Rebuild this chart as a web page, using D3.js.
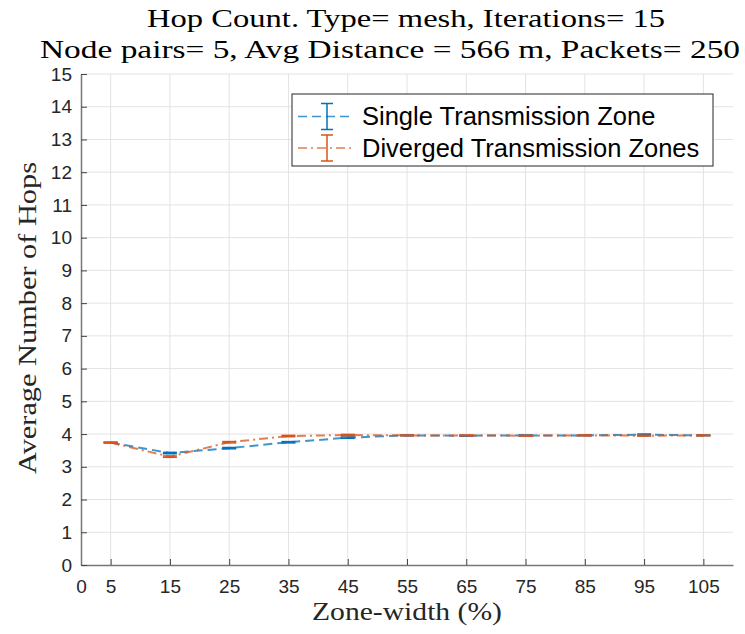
<!DOCTYPE html>
<html>
<head>
<meta charset="utf-8">
<script src="https://cdn.jsdelivr.net/npm/d3@7"></script>
<style>
  body { margin: 0; background: #fff; }
  svg { display: block; }
</style>
</head>
<body>
<div id="chart"></div>
<script>
// zone widths (%)
var zoneWidths = [5, 15, 25, 35, 45, 55, 65, 75, 85, 95, 105];
var singleHops = [3.74, 3.42, 3.57, 3.75, 3.89, 3.96, 3.95, 3.96, 3.96, 3.98, 3.96];
var singleErr = [0.01, 0.02, 0.02, 0.02, 0.02, 0.01, 0.01, 0.01, 0.01, 0.02, 0.01];
var divergedHops = [3.74, 3.31, 3.75, 3.94, 3.97, 3.96, 3.96, 3.95, 3.96, 3.95, 3.96];
var divergedErr = [0.01, 0.02, 0.02, 0.02, 0.02, 0.01, 0.01, 0.01, 0.01, 0.01, 0.01];
var xTicks = [0, 5, 15, 25, 35, 45, 55, 65, 75, 85, 95, 105];
var yTicks = d3.range(0, 16);
var seriesNames = ["Single Transmission Zone", "Diverged Transmission Zones"];

var width = 745, height = 634;
var margin = { top: 74, right: 12, bottom: 69, left: 81 };

var svg = d3.select("#chart").append("svg")
    .attr("width", width)
    .attr("height", height);

var x = d3.scaleLinear().domain([0, 110]).range([margin.left, width - margin.right]);
var y = d3.scaleLinear().domain([0, 15]).range([height - margin.bottom, margin.top]);

var sans = "'Liberation Sans', Arial, sans-serif";
var serif = "'Liberation Serif', 'DejaVu Serif', serif";

// grid
svg.append("g").selectAll("line")
    .data(xTicks.slice(1))
    .enter().append("line")
    .attr("x1", function (d) { return x(d); })
    .attr("x2", function (d) { return x(d); })
    .attr("y1", y(0))
    .attr("y2", y(15))
    .attr("stroke", "#e3e3e3")
    .attr("stroke-width", 1);

svg.append("g").selectAll("line")
    .data(yTicks.slice(1))
    .enter().append("line")
    .attr("x1", x(0))
    .attr("x2", x(110))
    .attr("y1", function (d) { return y(d); })
    .attr("y2", function (d) { return y(d); })
    .attr("stroke", "#e3e3e3")
    .attr("stroke-width", 1);

// axes
var xAxis = svg.append("g")
    .attr("transform", "translate(0," + y(0) + ")")
    .call(d3.axisBottom(x).tickValues(xTicks).tickSizeInner(-6).tickSizeOuter(0).tickPadding(15));
var yAxis = svg.append("g")
    .attr("transform", "translate(" + x(0) + ",0)")
    .call(d3.axisLeft(y).tickValues(yTicks).tickSizeInner(-6).tickSizeOuter(0).tickPadding(9));

[xAxis, yAxis].forEach(function (ax) {
    ax.select(".domain").attr("stroke", "#777").attr("stroke-width", 1.5);
    ax.selectAll(".tick line").attr("stroke", "#444");
    ax.selectAll(".tick text")
        .attr("fill", "#262626")
        .style("font-family", sans)
        .style("font-size", "19px");
});

// series
var series = [
    { name: seriesNames[0], values: singleHops, err: singleErr, color: "#0072BD", dash: "9,5" },
    { name: seriesNames[1], values: divergedHops, err: divergedErr, color: "#D95319", dash: "9,4,2,4" }
];

var line = d3.line()
    .x(function (d) { return x(d[0]); })
    .y(function (d) { return y(d[1]); });

series.forEach(function (s) {
    var pts = zoneWidths.map(function (z, i) { return [z, s.values[i], s.err[i]]; });
    var g = svg.append("g");

    g.append("path")
        .datum(pts)
        .attr("d", line)
        .attr("fill", "none")
        .attr("stroke", s.color)
        .attr("stroke-opacity", 0.75)
        .attr("stroke-width", 2)
        .attr("stroke-dasharray", s.dash);

    var bars = g.selectAll(".eb").data(pts).enter().append("g");
    bars.append("line")
        .attr("x1", function (d) { return x(d[0]); })
        .attr("x2", function (d) { return x(d[0]); })
        .attr("y1", function (d) { return y(d[1] - d[2]); })
        .attr("y2", function (d) { return y(d[1] + d[2]); })
        .attr("stroke", s.color).attr("stroke-width", 1.5);
    [-1, 1].forEach(function (sign) {
        bars.append("line")
            .attr("x1", function (d) { return x(d[0]) - 7; })
            .attr("x2", function (d) { return x(d[0]) + 7; })
            .attr("y1", function (d) { return y(d[1] + sign * d[2]); })
            .attr("y2", function (d) { return y(d[1] + sign * d[2]); })
            .attr("stroke", s.color).attr("stroke-width", 1.5);
    });
});

// legend
var legend = svg.append("g").attr("transform", "translate(292,94)");
legend.append("rect")
    .attr("width", 421).attr("height", 72)
    .attr("fill", "#fff").attr("stroke", "#262626").attr("stroke-width", 1);

series.forEach(function (s, i) {
    var cy = 22.5 + i * 31.5;
    var row = legend.append("g").attr("transform", "translate(0," + cy + ")");
    row.append("line")
        .attr("x1", 6).attr("x2", 60).attr("y1", 0).attr("y2", 0)
        .attr("stroke", s.color).attr("stroke-opacity", 0.75)
        .attr("stroke-width", 1.5).attr("stroke-dasharray", s.dash);
    row.append("line")
        .attr("x1", 35).attr("x2", 35).attr("y1", -13).attr("y2", 13)
        .attr("stroke", s.color).attr("stroke-width", 1.5);
    [-13, 13].forEach(function (dy) {
        row.append("line")
            .attr("x1", 29).attr("x2", 41).attr("y1", dy).attr("y2", dy)
            .attr("stroke", s.color).attr("stroke-width", 1.5);
    });
    row.append("text")
        .attr("x", 70).attr("y", 0).attr("dy", "0.35em")
        .style("font-family", sans)
        .style("font-size", "25.5px")
        .attr("fill", "#000")
        .text(s.name);
});

// titles
svg.append("text")
    .attr("x", 406).attr("y", 27)
    .attr("text-anchor", "middle")
    .attr("textLength", 518).attr("lengthAdjust", "spacingAndGlyphs")
    .style("font-family", serif).style("font-size", "25px")
    .text("Hop Count. Type= mesh, Iterations= 15");
svg.append("text")
    .attr("x", 390).attr("y", 58)
    .attr("text-anchor", "middle")
    .attr("textLength", 700).attr("lengthAdjust", "spacingAndGlyphs")
    .style("font-family", serif).style("font-size", "25px")
    .text("Node pairs= 5, Avg Distance = 566 m, Packets= 250");

svg.append("text")
    .attr("x", 407).attr("y", 620)
    .attr("text-anchor", "middle")
    .attr("textLength", 190).attr("lengthAdjust", "spacingAndGlyphs")
    .style("font-family", serif).style("font-size", "25px")
    .attr("fill", "#262626")
    .text("Zone-width (%)");

svg.append("text")
    .attr("transform", "translate(36,318) rotate(-90)")
    .attr("text-anchor", "middle")
    .attr("textLength", 312).attr("lengthAdjust", "spacingAndGlyphs")
    .style("font-family", serif).style("font-size", "25px")
    .attr("fill", "#262626")
    .text("Average Number of Hops");
</script>
</body>
</html>
